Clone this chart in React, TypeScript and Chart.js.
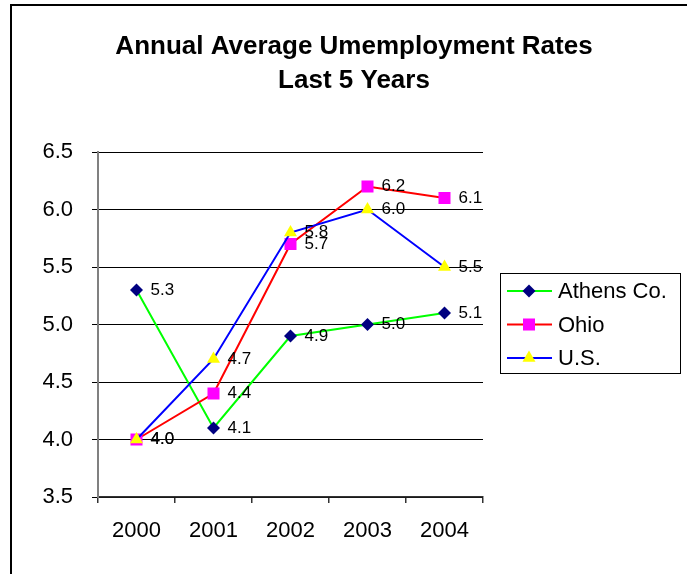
import React, { useEffect, useRef } from 'react';
import { Chart, registerables } from 'chart.js';

Chart.register(...registerables);

// Chart content
const titleLines = ['Annual Average Umemployment Rates', 'Last 5 Years'];
const years = ['2000', '2001', '2002', '2003', '2004'];
const athensRates = [5.3, 4.1, 4.9, 5.0, 5.1];
const ohioRates = [4.0, 4.4, 5.7, 6.2, 6.1];
const usRates = [4.0, 4.7, 5.8, 6.0, 5.5];
const seriesNames = ['Athens Co.', 'Ohio', 'U.S.'];
const yMin = 3.5;
const yMax = 6.5;
const yStep = 0.5;

const FONT = '"Liberation Sans", Arial, Helvetica, sans-serif';

type Series = {
  label: string;
  data: number[];
  line: string;
  marker: string;
  style: 'rectRot' | 'rect' | 'triangle';
  radius: number;
  order: number;
};

const series: Series[] = [
  { label: seriesNames[0], data: athensRates, line: '#00FF00', marker: '#000080', style: 'rectRot', radius: 6.5, order: 3 },
  { label: seriesNames[1], data: ohioRates, line: '#FF0000', marker: '#FF00FF', style: 'rect', radius: 8.5, order: 2 },
  { label: seriesNames[2], data: usRates, line: '#0000FF', marker: '#FFFF00', style: 'triangle', radius: 7.5, order: 1 },
];

function drawMarker(ctx: CanvasRenderingContext2D, s: Series, x: number, y: number) {
  const r = s.radius;
  ctx.save();
  ctx.fillStyle = s.marker;
  ctx.beginPath();
  if (s.style === 'rectRot') {
    ctx.moveTo(x, y - r);
    ctx.lineTo(x + r, y);
    ctx.lineTo(x, y + r);
    ctx.lineTo(x - r, y);
  } else if (s.style === 'rect') {
    const h = r * Math.SQRT1_2;
    ctx.rect(x - h, y - h, 2 * h, 2 * h);
  } else {
    ctx.moveTo(x, y - r);
    ctx.lineTo(x + r * 0.866, y + r * 0.5);
    ctx.lineTo(x - r * 0.866, y + r * 0.5);
  }
  ctx.closePath();
  ctx.fill();
  ctx.restore();
}

// Value labels to the right of each point
const valueLabels = {
  id: 'valueLabels',
  afterDatasetsDraw(chart: Chart) {
    const ctx = chart.ctx;
    ctx.save();
    ctx.font = `17px ${FONT}`;
    ctx.fillStyle = '#000';
    ctx.textAlign = 'left';
    ctx.textBaseline = 'middle';
    chart.data.datasets.forEach((ds, i) => {
      const meta = chart.getDatasetMeta(i);
      meta.data.forEach((pt: any, j: number) => {
        const v = ds.data[j] as number;
        ctx.fillText(v.toFixed(1), pt.x + 14, pt.y);
      });
    });
    ctx.restore();
  },
};

// Boxed legend with line + marker samples
const boxedLegend = {
  id: 'boxedLegend',
  afterDraw(chart: Chart) {
    const ctx = chart.ctx;
    const left = chart.chartArea.right + 17;
    const top = 267;
    const width = 180;
    const height = 100;
    const rowGap = 33.5;
    ctx.save();
    ctx.strokeStyle = '#000';
    ctx.lineWidth = 1;
    ctx.strokeRect(Math.round(left) + 0.5, top + 0.5, width, height);
    ctx.font = `22px ${FONT}`;
    ctx.textAlign = 'left';
    ctx.textBaseline = 'middle';
    series.forEach((s, i) => {
      const y = top + 18 + i * rowGap;
      const x0 = left + 7;
      ctx.strokeStyle = s.line;
      ctx.lineWidth = 2;
      ctx.beginPath();
      ctx.moveTo(x0, y);
      ctx.lineTo(x0 + 45, y);
      ctx.stroke();
      drawMarker(ctx, s, x0 + 22, y);
      ctx.fillStyle = '#000';
      ctx.fillText(s.label, x0 + 51, y + 1);
    });
    ctx.restore();
  },
};

export default function App() {
  const canvasRef = useRef<HTMLCanvasElement>(null);

  useEffect(() => {
    if (!canvasRef.current) return;
    Chart.defaults.font.family = FONT;
    Chart.defaults.color = '#000';

    const chart = new Chart(canvasRef.current, {
      type: 'line',
      data: {
        labels: years,
        datasets: series.map((s) => ({
          label: s.label,
          data: s.data,
          borderColor: s.line,
          backgroundColor: s.marker,
          borderWidth: 2,
          tension: 0,
          pointStyle: s.style,
          pointRadius: s.radius,
          pointHoverRadius: s.radius,
          pointBackgroundColor: s.marker,
          pointBorderColor: s.marker,
          pointBorderWidth: 0,
          order: s.order,
          yAxisID: 'y',
        })),
      },
      options: {
        responsive: false,
        animation: false,
        events: [],
        layout: { padding: 0 },
        plugins: {
          legend: { display: false },
          tooltip: { enabled: false },
          title: {
            display: true,
            text: titleLines,
            color: '#000',
            font: { family: FONT, size: 26, weight: 'bold', lineHeight: 34 / 26 },
            padding: { top: 24, bottom: 54 },
          },
        },
        scales: {
          x: {
            type: 'category',
            offset: true,
            grid: {
              offset: true,
              drawOnChartArea: false,
              drawTicks: true,
              tickLength: 6,
              color: '#333',
              lineWidth: 1.5,
            },
            border: { color: '#333', width: 1.5 },
            ticks: { font: { size: 22 }, color: '#000', padding: 15, maxRotation: 0 },
            afterFit: (s: any) => {
              s.height = 77;
            },
          },
          y: {
            type: 'linear',
            position: 'left',
            min: yMin,
            max: yMax,
            grid: { color: '#000', lineWidth: 1, drawTicks: true, tickLength: 6 },
            border: { color: '#808080', width: 2 },
            ticks: {
              stepSize: yStep,
              font: { size: 22 },
              color: '#000',
              padding: 19,
              callback: (v: any) => Number(v).toFixed(1),
            },
            afterFit: (s: any) => {
              s.width = 86;
            },
          },
          legendSpace: {
            type: 'linear',
            position: 'right',
            display: true,
            grid: { display: false, drawTicks: false },
            border: { display: false },
            ticks: { display: false },
            afterFit: (s: any) => {
              s.width = 213;
            },
          },
        },
      },
      plugins: [valueLabels, boxedLegend],
    } as any);

    return () => chart.destroy();
  }, []);

  return (
    <div
      style={{
        position: 'fixed',
        left: 0,
        top: 0,
        width: 687,
        height: 574,
        overflow: 'hidden',
        background: '#fff',
      }}
    >
      <div
        style={{
          position: 'absolute',
          left: 10,
          top: 4,
          width: 700,
          height: 600,
          borderTop: '2px solid #000',
          borderLeft: '2px solid #000',
        }}
      >
        <canvas
          ref={canvasRef}
          width={684}
          height={568}
          style={{ display: 'block', width: 684, height: 568 }}
        />
      </div>
    </div>
  );
}
